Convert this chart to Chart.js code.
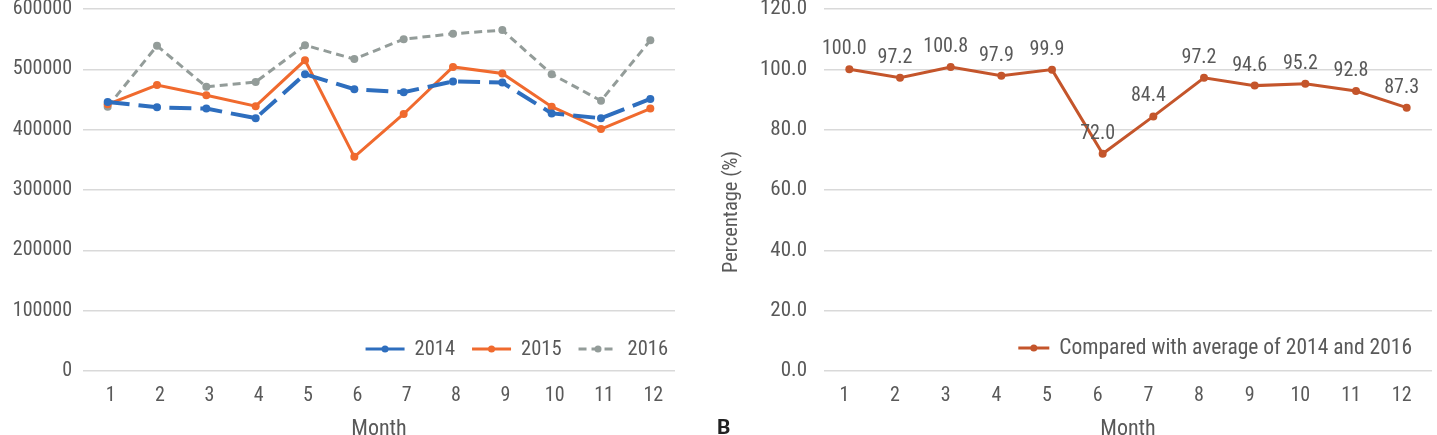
<!DOCTYPE html>
<html>
<head>
<meta charset="utf-8">
<script src="https://cdn.jsdelivr.net/npm/chart.js@4.4.1/dist/chart.umd.min.js"></script>
<style>
  html, body { margin: 0; padding: 0; background: #fff; width: 1437px; height: 435px; overflow: hidden; }
  #wrapA { position: absolute; left: 0; top: 0; width: 700px; height: 450px; }
  #wrapB { position: absolute; left: 700px; top: 0; width: 737px; height: 450px; }
  #panelB { position: absolute; left: 717px; top: 415px; font: bold 21px 'Roboto', 'Liberation Sans', sans-serif; color: #222; }
</style>
</head>
<body>
<div id="wrapA"><canvas id="chartA" width="700" height="450"></canvas></div>
<div id="wrapB"><canvas id="chartB" width="737" height="450"></canvas></div>
<div id="panelB">B</div>
<script>
// ---- data ----
const months = ['1','2','3','4','5','6','7','8','9','10','11','12'];
const series2014 = [446000, 437000, 435000, 419000, 492000, 467000, 462000, 480000, 478000, 427000, 419000, 451000];
const series2015 = [442000, 474000, 457000, 439000, 515000, 355000, 426000, 504000, 493000, 438000, 401000, 435000];
const series2016 = [438000, 539000, 471000, 479000, 540000, 517000, 550000, 559000, 565000, 492000, 448000, 548000];
const seriesNames = ['2014', '2015', '2016'];
const ratioValues = [100.0, 97.2, 100.8, 97.9, 99.9, 72.0, 84.4, 97.2, 94.6, 95.2, 92.8, 87.3];
const ratioName = 'Compared with average of 2014 and 2016';
const leftTicks = [0, 100000, 200000, 300000, 400000, 500000, 600000];
const rightTicks = [0, 20, 40, 60, 80, 100, 120];
const xTitle = 'Month';
const yTitleRight = 'Percentage (%)';

// ---- style ----
const FONT = "'Roboto Condensed', 'Roboto', 'DejaVu Sans Condensed', sans-serif";
const TXT = '#595959';
const GRID = '#d9d9d9';
Chart.defaults.font.family = FONT;
Chart.defaults.color = TXT;

const legendPlugin = {
  id: 'customLegend',
  afterDraw(chart, args, opts) {
    const ctx = chart.ctx;
    ctx.save();
    ctx.font = opts.fontSize + 'px ' + FONT;
    ctx.textBaseline = 'middle';
    ctx.textAlign = 'left';
    const items = chart.data.datasets;
    const widths = items.map(d => ctx.measureText(d.label).width);
    let total = 0;
    items.forEach((d, i) => { total += opts.lineLen + opts.gap + widths[i]; if (i < items.length - 1) total += opts.itemGap; });
    let x = opts.right - total;
    const y = opts.y;
    items.forEach((d, i) => {
      ctx.strokeStyle = d.borderColor;
      ctx.lineWidth = 3;
      ctx.setLineDash(d.legendDash || []);
      ctx.beginPath();
      ctx.moveTo(x, y); ctx.lineTo(x + opts.lineLen, y);
      ctx.stroke();
      ctx.setLineDash([]);
      ctx.fillStyle = d.borderColor;
      ctx.beginPath();
      ctx.arc(x + opts.lineLen / 2, y, 3.5, 0, Math.PI * 2);
      ctx.fill();
      ctx.fillStyle = TXT;
      ctx.fillText(d.label, x + opts.lineLen + opts.gap, y + 1);
      x += opts.lineLen + opts.gap + widths[i] + opts.itemGap;
    });
    ctx.restore();
  }
};

const labelPlugin = {
  id: 'pointLabels',
  afterDatasetsDraw(chart, args, opts) {
    if (!opts.enabled) return;
    const ctx = chart.ctx;
    ctx.save();
    ctx.font = '20px ' + FONT;
    ctx.fillStyle = TXT;
    ctx.textAlign = 'center';
    ctx.textBaseline = 'middle';
    const meta = chart.getDatasetMeta(0);
    const vals = chart.data.datasets[0].data;
    meta.data.forEach((pt, i) => {
      ctx.fillText(vals[i].toFixed(1), pt.x - 5, pt.y - 20);
    });
    ctx.restore();
  }
};

const yTitlePlugin = {
  id: 'yTitle',
  afterDraw(chart, args, opts) {
    if (!opts.text) return;
    const ctx = chart.ctx;
    ctx.save();
    ctx.font = '20.5px ' + FONT;
    ctx.fillStyle = TXT;
    ctx.textAlign = 'center';
    ctx.textBaseline = 'middle';
    ctx.translate(opts.x, opts.y);
    ctx.rotate(-Math.PI / 2);
    ctx.fillText(opts.text, 0, 0);
    ctx.restore();
  }
};

function baseOptions(cfg) {
  return {
    responsive: false,
    animation: false,
    devicePixelRatio: 1,
    layout: { padding: { left: 0, right: cfg.padRight, top: 9, bottom: 0 } },
    plugins: {
      legend: { display: false },
      tooltip: { enabled: false },
      customLegend: cfg.legend,
      pointLabels: { enabled: cfg.pointLabels },
      yTitle: cfg.yTitle || {}
    },
    scales: {
      x: {
        offset: true,
        grid: { display: false, drawTicks: false },
        border: { display: false },
        ticks: { padding: 13, labelOffset: cfg.labelOffset, font: { size: 20, lineHeight: 1.2 }, color: TXT },
        title: { display: true, text: xTitle, font: { size: 22 }, color: TXT, padding: { top: 0, bottom: 7 } },
        afterFit(s) { s.height = 79; s.paddingLeft = 0; s.paddingRight = 0; }
      },
      y: {
        min: cfg.ticks[0],
        max: cfg.ticks[cfg.ticks.length - 1],
        afterBuildTicks(s) { s.ticks = cfg.ticks.map(v => ({ value: v })); },
        grid: { color: GRID, lineWidth: 1.5, drawTicks: false },
        border: { display: false },
        ticks: { padding: cfg.yPad, font: { size: cfg.yFont, lineHeight: 1.2 }, color: TXT, callback: cfg.fmt },
        afterFit(s) { s.width = cfg.yWidth; s.paddingTop = 0; s.paddingBottom = 0; }
      }
    }
  };
}

new Chart(document.getElementById('chartA'), {
  type: 'line',
  data: {
    labels: months,
    datasets: [
      { label: seriesNames[0], data: series2014, borderColor: '#2E6EBE', backgroundColor: '#2E6EBE', borderWidth: 4, borderDash: [22, 9], legendDash: [], pointRadius: 4, pointBorderWidth: 0, tension: 0 },
      { label: seriesNames[1], data: series2015, borderColor: '#F06A2E', backgroundColor: '#F06A2E', borderWidth: 3, pointRadius: 4, pointBorderWidth: 0, tension: 0 },
      { label: seriesNames[2], data: series2016, borderColor: '#939C99', backgroundColor: '#939C99', borderWidth: 3, borderDash: [8, 5], legendDash: [8, 5], pointRadius: 4, pointBorderWidth: 0, tension: 0 }
    ]
  },
  options: baseOptions({
    padRight: 25, yWidth: 83, yPad: 11, yFont: 20, labelOffset: 3, ticks: leftTicks,
    fmt: v => String(v), pointLabels: false,
    legend: { right: 668, y: 349, lineLen: 39, gap: 10, itemGap: 17, fontSize: 20.5 }
  }),
  plugins: [legendPlugin, labelPlugin, yTitlePlugin]
});

new Chart(document.getElementById('chartB'), {
  type: 'line',
  data: {
    labels: months,
    datasets: [
      { label: ratioName, data: ratioValues, borderColor: '#C4552B', backgroundColor: '#C4552B', borderWidth: 3, pointRadius: 4, pointBorderWidth: 0, tension: 0 }
    ]
  },
  options: baseOptions({
    padRight: 5, yWidth: 124, yPad: 17, yFont: 21, labelOffset: -5, ticks: rightTicks,
    fmt: v => v.toFixed(1), pointLabels: true,
    legend: { right: 712, y: 348, lineLen: 31, gap: 10, itemGap: 0, fontSize: 21.5 },
    yTitle: { text: yTitleRight, x: 32, y: 212 }
  }),
  plugins: [legendPlugin, labelPlugin, yTitlePlugin]
});
</script>
</body>
</html>
